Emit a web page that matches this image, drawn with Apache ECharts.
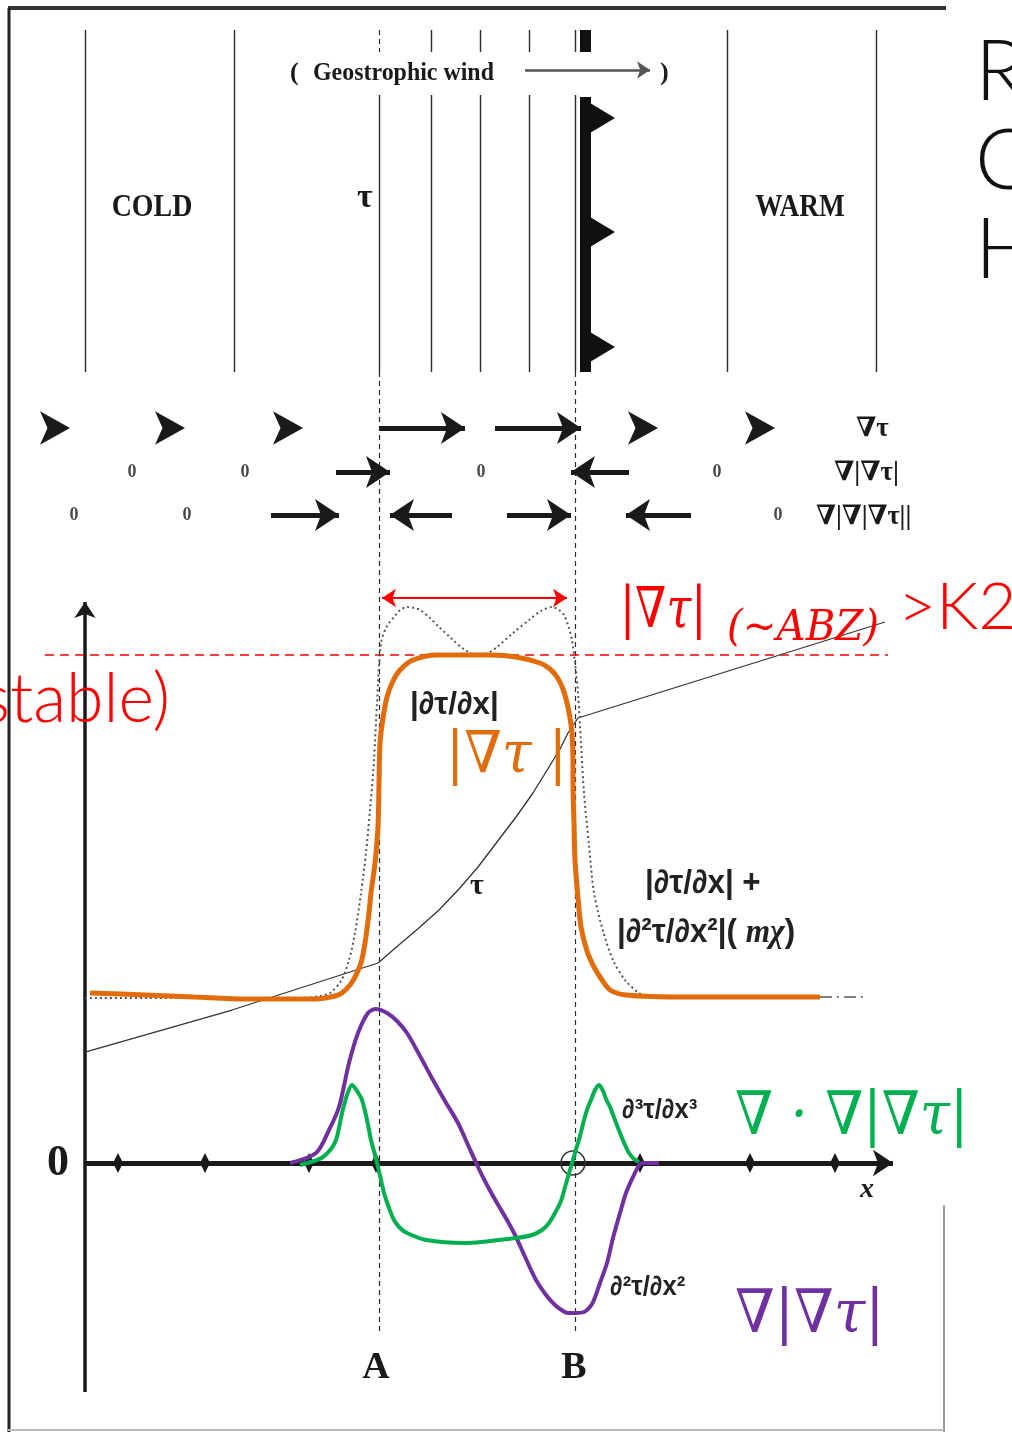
<!DOCTYPE html>
<html><head><meta charset="utf-8">
<script src="https://cdn.jsdelivr.net/npm/echarts@6/dist/echarts.min.js"></script>
<style>html,body{margin:0;padding:0;background:#fff}#c{width:1012px;height:1432px}</style>
</head><body><div id="c"></div>
<script>
// ---- data (x measured from the vertical axis, y measured from the zero line) ----
const tauCurve = [[0,111],[147,153],[293,200],[315,219],[335,236],[354,253],[374,274],[393,296],[412,321],[431,346],[448,370],[464,396],[475,414],[483,430],[493,445],[800,541]];
const gradSumDotted = [[0,165],[150,165],[215,165],[235,167],[245,170],[256,182],[264,203],[270,230],[276,270],[281,310],[285,353],[289,403],[292,460],[296,520],[302,537],[309,546],[315,553],[322,556],[329,555],[335,553],[345,545],[354,536],[367,524],[380,513],[393,508],[403,510],[412,516],[428,530],[444,543],[456,552],[467,556],[474,553],[479,548],[483,538],[487,523],[490,500],[493,470],[496,420],[499,370],[504,318],[509,270],[518,232],[528,203],[540,183],[554,170],[565,166],[735,166]];
const gradSumTail = [[735,166],[783,166]];
const gradTauAbs = [[5,170],[60,168],[109,166],[160,164],[186,164],[231,164],[250,167],[257,170],[265,178],[270,186],[276,200],[280,220],[284,250],[286,270],[290,300],[293,336],[294,380],[295,420],[298,445],[302,466],[308,482],[315,493],[328,503],[352,508],[380,508],[406,508],[431,506],[455,500],[465,494],[472,486],[478,474],[482,460],[485,445],[487,430],[488,400],[488,380],[489,340],[490,303],[493,265],[496,236],[502,212],[509,196],[517,183],[525,173],[541,168],[600,166],[735,166]];
const gradOfGradAbs = [[205,0],[231,10],[244,33],[254,56],[264,100],[273,130],[283,150],[291,154],[302,150],[312,142],[322,130],[335,107],[348,83],[360,62],[373,40],[383,18],[393,-4],[402,-22],[412,-40],[422,-57],[431,-74],[441,-96],[451,-117],[461,-132],[470,-142],[478,-148],[483,-150],[491,-150],[499,-149],[505,-144],[509,-137],[515,-120],[522,-100],[528,-75],[535,-50],[541,-30],[548,-14],[553,-4],[557,0],[574,0]];
const divGradAbs = [[215,-2],[229,2],[238,6],[246,14],[251,23],[254,35],[257,50],[262,68],[267,78],[272,72],[277,63],[282,43],[286,23],[290,8],[293,-4],[296,-17],[299,-30],[304,-45],[309,-57],[315,-65],[322,-70],[341,-77],[380,-80],[431,-75],[447,-72],[457,-67],[464,-60],[470,-50],[476,-38],[480,-24],[485,-7],[490,10],[495,27],[499,43],[503,56],[506,63],[510,73],[514,78],[518,72],[521,64],[525,56],[530,43],[535,30],[540,18],[544,10],[549,4],[554,1]];
const isothermsFull = [0,149,642,791];
const isothermsSplit = [346,395,444];
const lineA = 294, lineB = 490;
const frontX = 500;
const frontTeeth = [1045,931,816];
const axisTicks = [33,120,224,291,555,665,750];
const row1Heads = [-15,100,218,573,690];
const row1Arrows = [[295,380],[410,496]];
const row2Arrows = [[251,305],[544,486]];
const row3Arrows = [[186,254],[367,305],[422,486],[606,541]];
const row2Zeros = [47,160,396,632];
const row3Zeros = [-11,102,693];
const rowY = [735,691,648];

const chart = echarts.init(document.getElementById('c'));
const seg = (a,b)=>({coords:[a,b]});
const ink = '#1a1a1a';
const series = [];
// isotherms
series.push({type:'lines',coordinateSystem:'cartesian2d',silent:true,z:2,
  lineStyle:{color:'#2a2a2a',width:1.4,opacity:1},
  data:[...isothermsFull.map(x=>seg([x,1133],[x,791])),
        ...isothermsSplit.flatMap(x=>[seg([x,1133],[x,1111]),seg([x,1068],[x,791])]),
        seg([lineA,1068],[lineA,791]), seg([lineB,1133],[lineB,1111]), seg([lineB,1068],[lineB,791])]});
series.push({type:'lines',coordinateSystem:'cartesian2d',silent:true,z:2,
  lineStyle:{color:'#2a2a2a',width:1.2,type:[5,4],opacity:1},
  data:[seg([lineA,1133],[lineA,1111]), seg([lineA,791],[lineA,-172]), seg([lineB,791],[lineB,-170])]});
// front
series.push({type:'lines',coordinateSystem:'cartesian2d',silent:true,z:3,
  lineStyle:{color:'#111',width:11,opacity:1},
  data:[seg([frontX,1133],[frontX,1111]), seg([frontX,1066],[frontX,791])]});
series.push({type:'custom',coordinateSystem:'cartesian2d',silent:true,z:3,
  data:frontTeeth.map(y=>[frontX,y]),
  renderItem:(p,api)=>{const y=api.value(1);
    return {type:'polygon',shape:{points:[api.coord([frontX+5,y+15]),api.coord([frontX+30,y]),api.coord([frontX+5,y-15])]},style:{fill:'#111'}};}});
// geostrophic wind arrow
series.push({type:'lines',coordinateSystem:'cartesian2d',silent:true,z:3,
  symbol:['none','arrow'],symbolSize:13,
  lineStyle:{color:'#555',width:2.5,opacity:1},data:[seg([440,1093],[565,1093])]});
// gradient arrow rows
series.push({type:'scatter',silent:true,z:4,symbol:'arrow',symbolSize:[25,30],symbolRotate:-90,
  itemStyle:{color:ink,opacity:1},data:row1Heads.map(x=>[x,rowY[0]])});
series.push({type:'lines',coordinateSystem:'cartesian2d',silent:true,z:4,
  symbol:['none','arrow'],symbolSize:24,lineStyle:{color:ink,width:5,opacity:1},
  data:[...row1Arrows.map(a=>seg([a[0],rowY[0]],[a[1],rowY[0]])),
        ...row2Arrows.map(a=>seg([a[0],rowY[1]],[a[1],rowY[1]])),
        ...row3Arrows.map(a=>seg([a[0],rowY[2]],[a[1],rowY[2]]))]});
series.push({type:'scatter',silent:true,z:4,symbolSize:1,itemStyle:{color:'transparent'},
  label:{show:true,position:'inside',formatter:'0',color:ink,fontFamily:'Liberation Serif',fontWeight:'bold',fontSize:18},
  data:[...row2Zeros.map(x=>[x,rowY[1]]),...row3Zeros.map(x=>[x,rowY[2]])]});
// red threshold
series.push({type:'lines',coordinateSystem:'cartesian2d',silent:true,z:6,
  lineStyle:{color:'#ff0000',width:1.5,type:[9,6],opacity:1},data:[seg([-40,508],[803,508])]});
series.push({type:'lines',coordinateSystem:'cartesian2d',silent:true,z:6,
  symbol:['arrow','arrow'],symbolSize:14,lineStyle:{color:'#ff0000',width:2,opacity:1},data:[seg([297,565],[482,565])]});
// axes
series.push({type:'lines',coordinateSystem:'cartesian2d',silent:true,z:5,
  symbol:['none','arrow'],symbolSize:[0,16],lineStyle:{color:ink,width:3.5,opacity:1},data:[seg([0,-229],[0,561])]});
series.push({type:'lines',coordinateSystem:'cartesian2d',silent:true,z:5,
  symbol:['none','arrow'],symbolSize:[0,20],lineStyle:{color:ink,width:5,opacity:1},data:[seg([0,0],[808,0])]});
series.push({type:'scatter',silent:true,z:5,symbol:'diamond',symbolSize:[10,20],itemStyle:{color:ink,opacity:1},data:axisTicks.map(x=>[x,0])});
series.push({type:'scatter',silent:true,z:5,symbol:'circle',symbolSize:24,itemStyle:{color:'transparent',borderColor:'#333',borderWidth:1.6,opacity:1},data:[[488,0]]});
// curves
series.push({type:'line',data:tauCurve,showSymbol:false,silent:true,z:7,lineStyle:{color:'#333',width:1.3}});
series.push({type:'line',data:gradSumDotted,showSymbol:false,silent:true,smooth:0.3,z:7,lineStyle:{color:'#555',width:2,type:[2,3]}});
series.push({type:'line',data:gradSumTail,showSymbol:false,silent:true,z:7,lineStyle:{color:'#555',width:1.5,type:[12,5,2,5]}});
series.push({type:'line',data:gradTauAbs,showSymbol:false,silent:true,smooth:0.3,z:9,lineStyle:{color:'#E36C0A',width:5}});
series.push({type:'line',data:gradOfGradAbs,showSymbol:false,silent:true,smooth:0.3,z:9,lineStyle:{color:'#7030A0',width:4}});
series.push({type:'line',data:divGradAbs,showSymbol:false,silent:true,smooth:0.3,z:10,lineStyle:{color:'#00B050',width:4}});

function T(text,x,y,font,fill,opt){opt=opt||{};
  return {type:'text',x:x,y:y,z:100,scaleX:opt.sx||1,silent:true,
    style:{text:text,font:font,fill:fill||ink,textAlign:opt.align||'left',textVerticalAlign:'middle',align:opt.align||'left',verticalAlign:'middle',rich:opt.rich}};}
const sb = s=>'bold '+s+'px "Liberation Serif","DejaVu Serif",serif';
const sansB = s=>'bold '+s+'px "Liberation Sans","DejaVu Sans",sans-serif';
const mathI = s=>'italic '+s+'px "DejaVu Serif",serif';
const light = s=>'300 '+s+'px Lato,"Noto Sans",sans-serif';
const graphicEls = [
  // frame
  {type:'line',z:50,shape:{x1:8,y1:8,x2:946,y2:8},style:{stroke:'#333',lineWidth:4}},
  {type:'line',z:50,shape:{x1:9,y1:8,x2:9,y2:1432},style:{stroke:'#222',lineWidth:3}},
  {type:'line',z:50,shape:{x1:944,y1:1205,x2:944,y2:1432},style:{stroke:'#999',lineWidth:2}},
  {type:'line',z:50,shape:{x1:8,y1:1430,x2:944,y2:1430},style:{stroke:'#bbb',lineWidth:2}},
  T('(',290,73,sb(26)), T('Geostrophic wind',313,73,sb(26),ink,{sx:0.92}), T(')',660,73,sb(26)),
  T('COLD',152,208,sb(31),ink,{align:'center',sx:0.9}),
  T('τ',357,198,sb(34)),
  T('WARM',800,208,sb(31),ink,{align:'center',sx:0.88}),
  T('R',975,73,light(84),'#111'), T('C',975,162,light(84),'#111'), T('H',975,251,light(84),'#111'),
  T('∇τ',856,429,sb(27)), T('∇|∇τ|',834,473,sb(27),ink,{sx:1.0}), T('∇|∇|∇τ||',816,517,sb(27),ink,{sx:0.98}),
  T('|∇τ|',620,612,mathI(56),'#ff0000',{sx:0.8}),
  T('(~ABZ)',727,629,mathI(42),'#ff0000',{sx:0.96}),
  T('>K2',898,608,light(66),'#ff0000'),
  T('stable)',170,700,light(68),'#ff0000',{align:'right'}),
  T('|∂τ/∂x|',410,705,sansB(32),'#222',{sx:0.98}),
  T('|∇τ |',446,757,mathI(58),'#E36C0A',{sx:0.93}),
  T('τ',470,886,sb(30)),
  T('|∂τ/∂x| +',645,884,sansB(33),'#222',{sx:0.95}),
  T('|∂²τ/∂x²|( {i|mχ})',617,933,sansB(33),'#222',{sx:0.95,rich:{i:{font:'bold italic 33px "Liberation Serif",serif',fill:'#222'}}}),
  T('∂³τ/∂x³',622,1111,'bold 27px "Liberation Sans","DejaVu Sans",sans-serif','#222',{sx:0.95}),
  T('∂²τ/∂x²',610,1288,'bold 27px "Liberation Sans","DejaVu Sans",sans-serif','#222',{sx:0.95}),
  T('∇ · ∇|∇τ|',735,1118,mathI(60),'#00B050',{sx:0.91}),
  T('∇|∇τ|',735,1316,mathI(60),'#7030A0',{sx:0.95}),
  T('0',58,1164,sb(44),ink,{align:'center'}),
  T('x',867,1190,'bold italic 28px "Liberation Serif",serif',ink,{align:'center'}),
  T('A',376,1368,sb(38),ink,{align:'center'}),
  T('B',574,1368,sb(38),ink,{align:'center'})
];
chart.setOption({
  animation:false,
  grid:{left:0,right:0,top:0,bottom:0},
  xAxis:{type:'value',min:-85,max:927,show:false},
  yAxis:{type:'value',min:-269,max:1163,show:false},
  series:series,
  graphic:{elements:graphicEls}
});
</script></body></html>
